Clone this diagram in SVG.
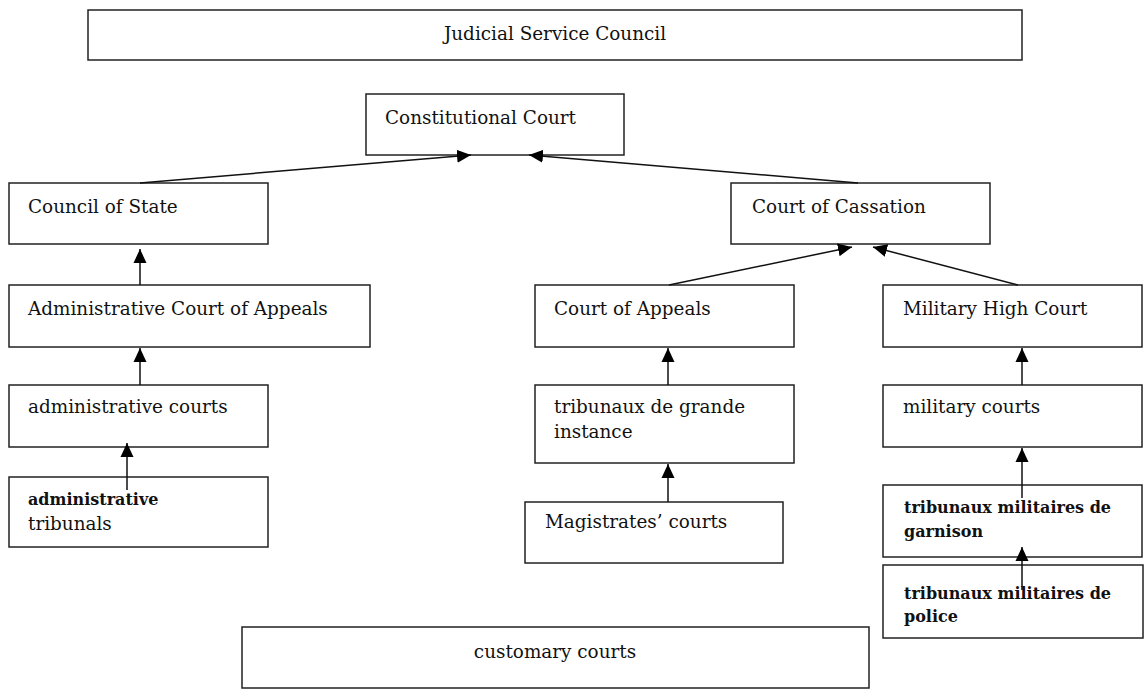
<svg xmlns="http://www.w3.org/2000/svg" width="1145" height="697" viewBox="0 0 1145 697">
<style>
.box{fill:#fff;stroke:#222;stroke-width:1.5}
.t{font-family:"DejaVu Serif","Liberation Serif",serif;font-size:18.4px;fill:#111}
.b{font-weight:bold;font-size:16px}
.c{stroke:#111;stroke-width:1.5;fill:none;marker-end:url(#ah)}
</style>
<defs>
<marker id="ah" markerUnits="userSpaceOnUse" markerWidth="15" markerHeight="15" viewBox="0 0 15 15" refX="14" refY="7.5" orient="auto">
<path d="M0,1 L14,7.5 L0,14 z" fill="#000"/>
</marker>
</defs>
<rect width="1145" height="697" fill="#fff"/>
<g id="jsc"><rect class="box" x="88" y="10" width="934" height="50"/><text class="t" x="555" y="40" text-anchor="middle">Judicial Service Council</text></g>
<g id="cc"><rect class="box" x="366" y="94" width="258" height="61"/><text class="t" x="385" y="124">Constitutional Court</text></g>
<g id="cos"><rect class="box" x="9" y="183" width="259" height="61"/><text class="t" x="28" y="213">Council of State</text></g>
<g id="cass"><rect class="box" x="731" y="183" width="259" height="61"/><text class="t" x="752" y="213">Court of Cassation</text></g>
<g id="aca"><rect class="box" x="9" y="285" width="361" height="62"/><text class="t" x="28" y="315">Administrative Court of Appeals</text></g>
<g id="coa"><rect class="box" x="535" y="285" width="259" height="62"/><text class="t" x="554" y="315">Court of Appeals</text></g>
<g id="mhc"><rect class="box" x="883" y="285" width="259" height="62"/><text class="t" x="903" y="315">Military High Court</text></g>
<g id="ac"><rect class="box" x="9" y="385" width="259" height="62"/><text class="t" x="28" y="413">administrative courts</text></g>
<g id="tgi"><rect class="box" x="535" y="385" width="259" height="78"/><text class="t" x="554" y="413">tribunaux de grande</text><text class="t" x="554" y="438">instance</text></g>
<g id="mc"><rect class="box" x="883" y="385" width="259" height="62"/><text class="t" x="903" y="413">military courts</text></g>
<g id="at"><rect class="box" x="9" y="477" width="259" height="70"/><text class="t b" x="28" y="505">administrative</text><text class="t" x="28" y="530">tribunals</text></g>
<g id="mag"><rect class="box" x="525" y="502" width="258" height="61"/><text class="t" x="545" y="528">Magistrates’ courts</text></g>
<g id="tmg"><rect class="box" x="883" y="485" width="259" height="72"/><text class="t b" x="904" y="513">tribunaux militaires de</text><text class="t b" x="904" y="537">garnison</text></g>
<g id="tmp"><rect class="box" x="883" y="565" width="260" height="73"/><text class="t b" x="904" y="599">tribunaux militaires de</text><text class="t b" x="904" y="622">police</text></g>
<g id="cust"><rect class="box" x="242" y="627" width="627" height="61"/><text class="t" x="555" y="658" text-anchor="middle">customary courts</text></g>
<g id="connectors">
<line class="c" x1="140" y1="183" x2="471" y2="155"/>
<line class="c" x1="858" y1="183" x2="529" y2="155"/>
<line class="c" x1="140" y1="285" x2="140" y2="249"/>
<line class="c" x1="669" y1="285" x2="852" y2="247"/>
<line class="c" x1="1018" y1="285" x2="873" y2="247"/>
<line class="c" x1="140" y1="385" x2="140" y2="348"/>
<line class="c" x1="668" y1="385" x2="668" y2="348"/>
<line class="c" x1="1022" y1="385" x2="1022" y2="348"/>
<line class="c" x1="127" y1="490" x2="127" y2="443"/>
<line class="c" x1="668" y1="502" x2="668" y2="464"/>
<line class="c" x1="1022" y1="498" x2="1022" y2="448"/>
<line class="c" x1="1022" y1="590" x2="1022" y2="547"/>
</g>
</svg>
